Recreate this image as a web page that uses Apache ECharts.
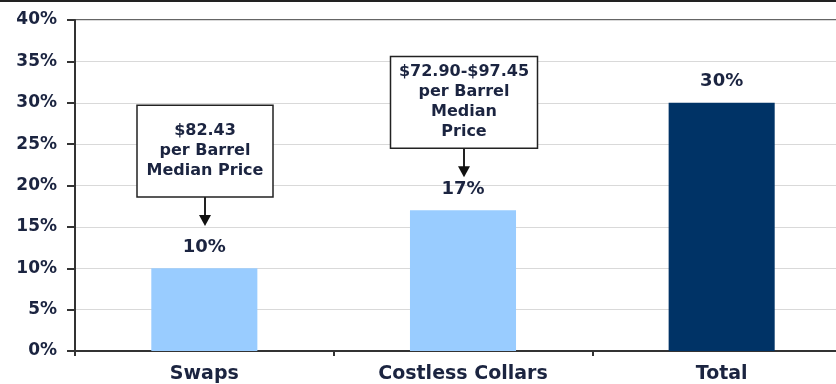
<!DOCTYPE html>
<html>
<head>
<meta charset="utf-8">
<script src="https://cdn.jsdelivr.net/npm/echarts@6/dist/echarts.min.js"></script>
<style>
  html, body { margin: 0; padding: 0; background: #fff; overflow: hidden; width: 836px; height: 384px; }
  /* plot runs slightly past the right edge of the frame */
  #chart { width: 851px; height: 384px; }
</style>
</head>
<body>
<div id="chart"></div>
<script>
// Hedged share of production by instrument type
const categories = ['Swaps', 'Costless Collars', 'Total'];
const hedgedPct = [10, 17, 30];
const yTickLabels = ['0%', '5%', '10%', '15%', '20%', '25%', '30%', '35%', '40%'];
const calloutLines = [
  ['$82.43', 'per Barrel', 'Median Price'],
  ['$72.90-$97.45', 'per Barrel', 'Median', 'Price']
];

const FONT = '"DejaVu Sans", sans-serif';
const TEXT = '#1b2440';
const barColors = ['#99CCFF', '#99CCFF', '#003366'];

const chart = echarts.init(document.getElementById('chart'), null, { renderer: 'canvas' });

const option = {
  animation: false,
  backgroundColor: '#ffffff',
  grid: {
    left: 75, top: 20, bottom: 33, right: 0,
    show: true, borderColor: '#333', borderWidth: 1.5, backgroundColor: 'transparent'
  },
  xAxis: {
    type: 'category',
    data: categories,
    axisLine: { lineStyle: { color: '#333', width: 2 } },
    axisTick: { show: true, length: 5, alignWithLabel: false, lineStyle: { color: '#333', width: 2 } },
    axisLabel: { color: TEXT, fontFamily: FONT, fontWeight: 'bold', fontSize: 19, margin: 14 }
  },
  yAxis: {
    type: 'value',
    min: 0, max: 40, interval: 5,
    axisLine: { show: true, lineStyle: { color: '#333', width: 2 } },
    axisTick: { show: true, length: 8, lineStyle: { color: '#333', width: 2 } },
    splitLine: { lineStyle: { color: '#d9d9d9', width: 1 } },
    axisLabel: {
      color: TEXT, fontFamily: FONT, fontWeight: 'bold', fontSize: 17, margin: 18,
      formatter: v => yTickLabels[Math.round(v / 5)]
    }
  },
  series: [{
    type: 'bar',
    barWidth: '41%',
    data: hedgedPct.map((v, i) => ({ value: v, itemStyle: { color: barColors[i] } })),
    label: {
      show: true, position: 'top', distance: 12,
      color: TEXT, fontFamily: FONT, fontWeight: 'bold', fontSize: 18,
      formatter: p => p.value + '%'
    }
  }]
};
chart.setOption(option);

// Callout boxes with arrows pointing down at the first two bars
const calloutSpecs = [
  { cat: 0, top: 29.7, bottom: 18.6, tip: 15.1, width: 136 },
  { cat: 1, top: 35.6, bottom: 24.5, tip: 21.0, width: 147 }
];
const graphics = [
  { type: 'rect', shape: { x: 0, y: 0, width: 851, height: 2 }, style: { fill: '#222' } }
];
calloutSpecs.forEach((s, i) => {
  const pTop = chart.convertToPixel({ xAxisIndex: 0, yAxisIndex: 0 }, [categories[s.cat], s.top]);
  const pBot = chart.convertToPixel({ xAxisIndex: 0, yAxisIndex: 0 }, [categories[s.cat], s.bottom]);
  const pTip = chart.convertToPixel({ xAxisIndex: 0, yAxisIndex: 0 }, [categories[s.cat], s.tip]);
  const cx = Math.round(pTop[0]) + 1;
  const h = pBot[1] - pTop[1];
  graphics.push({
    type: 'rect',
    shape: { x: cx - s.width / 2, y: pTop[1], width: s.width, height: h },
    style: { fill: '#fff', stroke: '#222', lineWidth: 1.5 },
    z: 10
  });
  const lines = calloutLines[i];
  const lineH = 20;
  const startY = pTop[1] + h / 2 - (lines.length * lineH) / 2 + lineH / 2;
  lines.forEach((t, k) => {
    graphics.push({
      type: 'text',
      x: cx, y: startY + k * lineH,
      style: {
        text: t, fill: TEXT, font: 'bold 16px ' + FONT,
        textAlign: 'center', textVerticalAlign: 'middle'
      },
      z: 11
    });
  });
  graphics.push({
    type: 'line',
    shape: { x1: cx, y1: pBot[1], x2: cx, y2: pTip[1] - 8 },
    style: { stroke: '#222', lineWidth: 2 },
    z: 10
  });
  graphics.push({
    type: 'polygon',
    shape: { points: [[cx - 6, pTip[1] - 11], [cx + 6, pTip[1] - 11], [cx, pTip[1]]] },
    style: { fill: '#111' },
    z: 10
  });
});
chart.setOption({ graphic: graphics });
</script>
</body>
</html>
